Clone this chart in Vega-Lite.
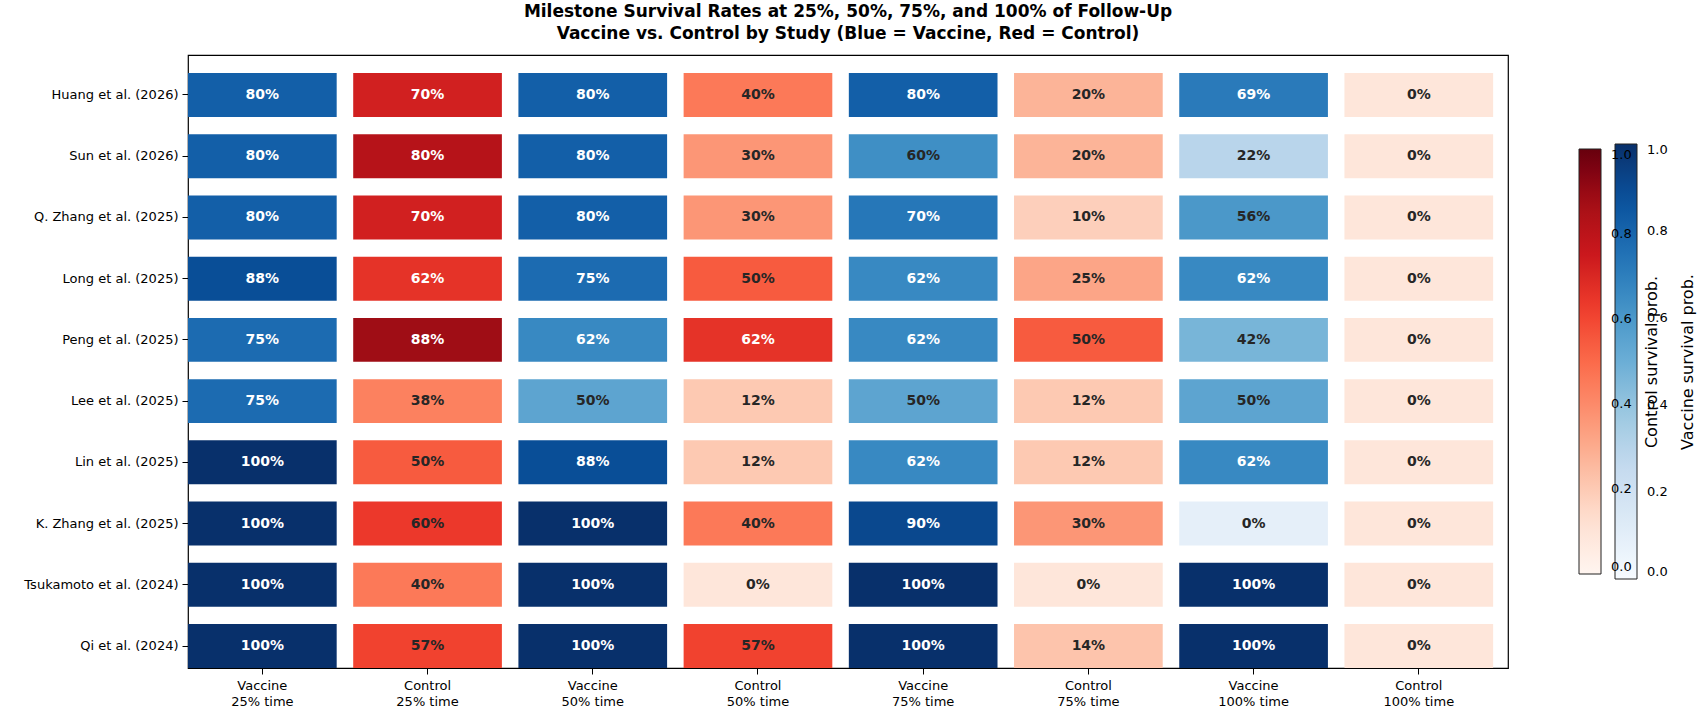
{
  "$schema": "https://vega.github.io/schema/vega-lite/v6.json",
  "width": 1320,
  "height": 613,
  "autosize": {"type": "none"},
  "padding": {"left": 188, "top": 55, "right": 193, "bottom": 43},
  "background": "white",
  "title": {
    "text": ["Milestone Survival Rates at 25%, 50%, 75%, and 100% of Follow-Up", "Vaccine vs. Control by Study (Blue = Vaccine, Red = Control)"],
    "font": "DejaVu Sans",
    "fontSize": 17,
    "fontWeight": "bold",
    "color": "black",
    "anchor": "middle",
    "frame": "group",
    "lineHeight": 22,
    "offset": 12
  },
  "config": {
    "font": "DejaVu Sans",
    "view": {"stroke": "black", "strokeWidth": 1.2},
    "axis": {
      "labelFont": "DejaVu Sans",
      "labelFontSize": 13,
      "labelColor": "black",
      "tickColor": "black",
      "tickSize": 6,
      "domain": false,
      "grid": false
    },
    "legend": {
      "padding": 0,
      "labelFont": "DejaVu Sans",
      "labelFontSize": 13,
      "labelColor": "black",
      "titleFont": "DejaVu Sans",
      "titleFontSize": 16,
      "titleFontWeight": "normal",
      "titleColor": "black",
      "gradientStrokeColor": "#222",
      "gradientStrokeWidth": 1
    }
  },
  "data": {
    "values": [
      {"study": "Huang et al. (2026)", "cond": "Vaccine", "col": "Vaccine|25% time", "v": 0.8, "label": "80%"},
      {"study": "Huang et al. (2026)", "cond": "Control", "col": "Control|25% time", "v": 0.7, "label": "70%"},
      {"study": "Huang et al. (2026)", "cond": "Vaccine", "col": "Vaccine|50% time", "v": 0.8, "label": "80%"},
      {"study": "Huang et al. (2026)", "cond": "Control", "col": "Control|50% time", "v": 0.4, "label": "40%"},
      {"study": "Huang et al. (2026)", "cond": "Vaccine", "col": "Vaccine|75% time", "v": 0.8, "label": "80%"},
      {"study": "Huang et al. (2026)", "cond": "Control", "col": "Control|75% time", "v": 0.2, "label": "20%"},
      {"study": "Huang et al. (2026)", "cond": "Vaccine", "col": "Vaccine|100% time", "v": 0.686, "label": "69%"},
      {"study": "Huang et al. (2026)", "cond": "Control", "col": "Control|100% time", "v": 0, "label": "0%"},

      {"study": "Sun et al. (2026)", "cond": "Vaccine", "col": "Vaccine|25% time", "v": 0.8, "label": "80%"},
      {"study": "Sun et al. (2026)", "cond": "Control", "col": "Control|25% time", "v": 0.8, "label": "80%"},
      {"study": "Sun et al. (2026)", "cond": "Vaccine", "col": "Vaccine|50% time", "v": 0.8, "label": "80%"},
      {"study": "Sun et al. (2026)", "cond": "Control", "col": "Control|50% time", "v": 0.3, "label": "30%"},
      {"study": "Sun et al. (2026)", "cond": "Vaccine", "col": "Vaccine|75% time", "v": 0.6, "label": "60%"},
      {"study": "Sun et al. (2026)", "cond": "Control", "col": "Control|75% time", "v": 0.2, "label": "20%"},
      {"study": "Sun et al. (2026)", "cond": "Vaccine", "col": "Vaccine|100% time", "v": 0.222, "label": "22%"},
      {"study": "Sun et al. (2026)", "cond": "Control", "col": "Control|100% time", "v": 0, "label": "0%"},

      {"study": "Q. Zhang et al. (2025)", "cond": "Vaccine", "col": "Vaccine|25% time", "v": 0.8, "label": "80%"},
      {"study": "Q. Zhang et al. (2025)", "cond": "Control", "col": "Control|25% time", "v": 0.7, "label": "70%"},
      {"study": "Q. Zhang et al. (2025)", "cond": "Vaccine", "col": "Vaccine|50% time", "v": 0.8, "label": "80%"},
      {"study": "Q. Zhang et al. (2025)", "cond": "Control", "col": "Control|50% time", "v": 0.3, "label": "30%"},
      {"study": "Q. Zhang et al. (2025)", "cond": "Vaccine", "col": "Vaccine|75% time", "v": 0.7, "label": "70%"},
      {"study": "Q. Zhang et al. (2025)", "cond": "Control", "col": "Control|75% time", "v": 0.1, "label": "10%"},
      {"study": "Q. Zhang et al. (2025)", "cond": "Vaccine", "col": "Vaccine|100% time", "v": 0.56, "label": "56%"},
      {"study": "Q. Zhang et al. (2025)", "cond": "Control", "col": "Control|100% time", "v": 0, "label": "0%"},

      {"study": "Long et al. (2025)", "cond": "Vaccine", "col": "Vaccine|25% time", "v": 0.875, "label": "88%"},
      {"study": "Long et al. (2025)", "cond": "Control", "col": "Control|25% time", "v": 0.625, "label": "62%"},
      {"study": "Long et al. (2025)", "cond": "Vaccine", "col": "Vaccine|50% time", "v": 0.75, "label": "75%"},
      {"study": "Long et al. (2025)", "cond": "Control", "col": "Control|50% time", "v": 0.5, "label": "50%"},
      {"study": "Long et al. (2025)", "cond": "Vaccine", "col": "Vaccine|75% time", "v": 0.625, "label": "62%"},
      {"study": "Long et al. (2025)", "cond": "Control", "col": "Control|75% time", "v": 0.25, "label": "25%"},
      {"study": "Long et al. (2025)", "cond": "Vaccine", "col": "Vaccine|100% time", "v": 0.625, "label": "62%"},
      {"study": "Long et al. (2025)", "cond": "Control", "col": "Control|100% time", "v": 0, "label": "0%"},

      {"study": "Peng et al. (2025)", "cond": "Vaccine", "col": "Vaccine|25% time", "v": 0.75, "label": "75%"},
      {"study": "Peng et al. (2025)", "cond": "Control", "col": "Control|25% time", "v": 0.875, "label": "88%"},
      {"study": "Peng et al. (2025)", "cond": "Vaccine", "col": "Vaccine|50% time", "v": 0.625, "label": "62%"},
      {"study": "Peng et al. (2025)", "cond": "Control", "col": "Control|50% time", "v": 0.625, "label": "62%"},
      {"study": "Peng et al. (2025)", "cond": "Vaccine", "col": "Vaccine|75% time", "v": 0.625, "label": "62%"},
      {"study": "Peng et al. (2025)", "cond": "Control", "col": "Control|75% time", "v": 0.5, "label": "50%"},
      {"study": "Peng et al. (2025)", "cond": "Vaccine", "col": "Vaccine|100% time", "v": 0.417, "label": "42%"},
      {"study": "Peng et al. (2025)", "cond": "Control", "col": "Control|100% time", "v": 0, "label": "0%"},

      {"study": "Lee et al. (2025)", "cond": "Vaccine", "col": "Vaccine|25% time", "v": 0.75, "label": "75%"},
      {"study": "Lee et al. (2025)", "cond": "Control", "col": "Control|25% time", "v": 0.375, "label": "38%"},
      {"study": "Lee et al. (2025)", "cond": "Vaccine", "col": "Vaccine|50% time", "v": 0.5, "label": "50%"},
      {"study": "Lee et al. (2025)", "cond": "Control", "col": "Control|50% time", "v": 0.125, "label": "12%"},
      {"study": "Lee et al. (2025)", "cond": "Vaccine", "col": "Vaccine|75% time", "v": 0.5, "label": "50%"},
      {"study": "Lee et al. (2025)", "cond": "Control", "col": "Control|75% time", "v": 0.125, "label": "12%"},
      {"study": "Lee et al. (2025)", "cond": "Vaccine", "col": "Vaccine|100% time", "v": 0.5, "label": "50%"},
      {"study": "Lee et al. (2025)", "cond": "Control", "col": "Control|100% time", "v": 0, "label": "0%"},

      {"study": "Lin et al. (2025)", "cond": "Vaccine", "col": "Vaccine|25% time", "v": 1.0, "label": "100%"},
      {"study": "Lin et al. (2025)", "cond": "Control", "col": "Control|25% time", "v": 0.5, "label": "50%"},
      {"study": "Lin et al. (2025)", "cond": "Vaccine", "col": "Vaccine|50% time", "v": 0.875, "label": "88%"},
      {"study": "Lin et al. (2025)", "cond": "Control", "col": "Control|50% time", "v": 0.125, "label": "12%"},
      {"study": "Lin et al. (2025)", "cond": "Vaccine", "col": "Vaccine|75% time", "v": 0.625, "label": "62%"},
      {"study": "Lin et al. (2025)", "cond": "Control", "col": "Control|75% time", "v": 0.125, "label": "12%"},
      {"study": "Lin et al. (2025)", "cond": "Vaccine", "col": "Vaccine|100% time", "v": 0.625, "label": "62%"},
      {"study": "Lin et al. (2025)", "cond": "Control", "col": "Control|100% time", "v": 0, "label": "0%"},

      {"study": "K. Zhang et al. (2025)", "cond": "Vaccine", "col": "Vaccine|25% time", "v": 1.0, "label": "100%"},
      {"study": "K. Zhang et al. (2025)", "cond": "Control", "col": "Control|25% time", "v": 0.6, "label": "60%"},
      {"study": "K. Zhang et al. (2025)", "cond": "Vaccine", "col": "Vaccine|50% time", "v": 1.0, "label": "100%"},
      {"study": "K. Zhang et al. (2025)", "cond": "Control", "col": "Control|50% time", "v": 0.4, "label": "40%"},
      {"study": "K. Zhang et al. (2025)", "cond": "Vaccine", "col": "Vaccine|75% time", "v": 0.9, "label": "90%"},
      {"study": "K. Zhang et al. (2025)", "cond": "Control", "col": "Control|75% time", "v": 0.3, "label": "30%"},
      {"study": "K. Zhang et al. (2025)", "cond": "Vaccine", "col": "Vaccine|100% time", "v": 0, "label": "0%"},
      {"study": "K. Zhang et al. (2025)", "cond": "Control", "col": "Control|100% time", "v": 0, "label": "0%"},

      {"study": "Tsukamoto et al. (2024)", "cond": "Vaccine", "col": "Vaccine|25% time", "v": 1.0, "label": "100%"},
      {"study": "Tsukamoto et al. (2024)", "cond": "Control", "col": "Control|25% time", "v": 0.4, "label": "40%"},
      {"study": "Tsukamoto et al. (2024)", "cond": "Vaccine", "col": "Vaccine|50% time", "v": 1.0, "label": "100%"},
      {"study": "Tsukamoto et al. (2024)", "cond": "Control", "col": "Control|50% time", "v": 0, "label": "0%"},
      {"study": "Tsukamoto et al. (2024)", "cond": "Vaccine", "col": "Vaccine|75% time", "v": 1.0, "label": "100%"},
      {"study": "Tsukamoto et al. (2024)", "cond": "Control", "col": "Control|75% time", "v": 0, "label": "0%"},
      {"study": "Tsukamoto et al. (2024)", "cond": "Vaccine", "col": "Vaccine|100% time", "v": 1.0, "label": "100%"},
      {"study": "Tsukamoto et al. (2024)", "cond": "Control", "col": "Control|100% time", "v": 0, "label": "0%"},

      {"study": "Qi et al. (2024)", "cond": "Vaccine", "col": "Vaccine|25% time", "v": 1.0, "label": "100%"},
      {"study": "Qi et al. (2024)", "cond": "Control", "col": "Control|25% time", "v": 0.571, "label": "57%"},
      {"study": "Qi et al. (2024)", "cond": "Vaccine", "col": "Vaccine|50% time", "v": 1.0, "label": "100%"},
      {"study": "Qi et al. (2024)", "cond": "Control", "col": "Control|50% time", "v": 0.571, "label": "57%"},
      {"study": "Qi et al. (2024)", "cond": "Vaccine", "col": "Vaccine|75% time", "v": 1.0, "label": "100%"},
      {"study": "Qi et al. (2024)", "cond": "Control", "col": "Control|75% time", "v": 0.143, "label": "14%"},
      {"study": "Qi et al. (2024)", "cond": "Vaccine", "col": "Vaccine|100% time", "v": 1.0, "label": "100%"},
      {"study": "Qi et al. (2024)", "cond": "Control", "col": "Control|100% time", "v": 0, "label": "0%"}
    ]
  },
  "encoding": {
    "x": {
      "field": "col",
      "type": "nominal",
      "scale": {
        "domain": ["Vaccine|25% time", "Control|25% time", "Vaccine|50% time", "Control|50% time", "Vaccine|75% time", "Control|75% time", "Vaccine|100% time", "Control|100% time"],
        "paddingInner": 0.1,
        "paddingOuter": 0.045,
        "align": 0
      },
      "axis": {"title": null, "labelAngle": 0, "labelExpr": "split(datum.label, '|')", "labelLineHeight": 16, "labelPadding": 5}
    },
    "y": {
      "field": "study",
      "type": "nominal",
      "scale": {
        "domain": ["Huang et al. (2026)", "Sun et al. (2026)", "Q. Zhang et al. (2025)", "Long et al. (2025)", "Peng et al. (2025)", "Lee et al. (2025)", "Lin et al. (2025)", "K. Zhang et al. (2025)", "Tsukamoto et al. (2024)", "Qi et al. (2024)"],
        "paddingInner": 0.282,
        "paddingOuter": 0.147,
        "align": 1
      },
      "axis": {"title": null, "labelPadding": 4}
    }
  },
  "layer": [
    {
      "transform": [{"filter": "datum.cond === 'Vaccine'"}],
      "mark": {"type": "text", "text": ""},
      "encoding": {
        "color": {
          "field": "v",
          "type": "quantitative",
          "scale": {
            "type": "linear",
            "domain": [0, 0.125, 0.25, 0.375, 0.5, 0.625, 0.75, 0.875, 1],
            "range": ["#f7fbff", "#deebf7", "#c6dbef", "#9ecae1", "#6baed6", "#4292c6", "#2171b5", "#08519c", "#08306b"]
          },
          "legend": {
            "title": "Vaccine survival prob.",
            "orient": "none",
            "legendX": 1427,
            "legendY": 89,
            "direction": "vertical",
            "gradientLength": 435,
            "gradientThickness": 22,
            "values": [0, 0.2, 0.4, 0.6, 0.8, 1],
            "format": ".1f",
            "labelOffset": 10,
            "titleOrient": "right",
            "titleAnchor": "middle",
            "titlePadding": 28,
            "encode": {"title": {"update": {"angle": {"value": -90}}}}
          }
        }
      }
    },
    {
      "transform": [{"filter": "datum.cond === 'Control'"}],
      "mark": {"type": "text", "text": ""},
      "encoding": {
        "color": {
          "field": "v",
          "type": "quantitative",
          "scale": {
            "type": "linear",
            "domain": [0, 0.125, 0.25, 0.375, 0.5, 0.625, 0.75, 0.875, 1],
            "range": ["#fff5f0", "#fee0d2", "#fcbba1", "#fc9272", "#fb6a4a", "#ef3b2c", "#cb181d", "#a50f15", "#67000d"]
          },
          "legend": {
            "title": "Control survival prob.",
            "orient": "none",
            "legendX": 1391,
            "legendY": 94,
            "direction": "vertical",
            "gradientLength": 425,
            "gradientThickness": 22,
            "values": [0, 0.2, 0.4, 0.6, 0.8, 1],
            "format": ".1f",
            "labelOffset": 10,
            "titleOrient": "right",
            "titleAnchor": "middle",
            "titlePadding": 28,
            "encode": {"title": {"update": {"angle": {"value": -90}}}}
          }
        }
      }
    },
    {
      "transform": [{"filter": "datum.cond === 'Vaccine'"}],
      "mark": {"type": "rect"},
      "encoding": {
        "color": {
          "field": "v",
          "type": "quantitative",
          "scale": {
            "type": "linear",
            "domain": [-0.1, 0.0375, 0.175, 0.3125, 0.45, 0.5875, 0.725, 0.8625, 1],
            "range": ["#f7fbff", "#deebf7", "#c6dbef", "#9ecae1", "#6baed6", "#4292c6", "#2171b5", "#08519c", "#08306b"]
          },
          "legend": null
        }
      }
    },
    {
      "transform": [{"filter": "datum.cond === 'Control'"}],
      "mark": {"type": "rect"},
      "encoding": {
        "color": {
          "field": "v",
          "type": "quantitative",
          "scale": {
            "type": "linear",
            "domain": [-0.1, 0.0375, 0.175, 0.3125, 0.45, 0.5875, 0.725, 0.8625, 1],
            "range": ["#fff5f0", "#fee0d2", "#fcbba1", "#fc9272", "#fb6a4a", "#ef3b2c", "#cb181d", "#a50f15", "#67000d"]
          },
          "legend": null
        }
      }
    },
    {
      "mark": {"type": "text", "font": "DejaVu Sans", "fontSize": 14, "fontWeight": "bold"},
      "encoding": {
        "text": {"field": "label", "type": "nominal"},
        "color": {"condition": {"test": "datum.v > 0.6", "value": "white"}, "value": "#262626"}
      }
    }
  ],
  "resolve": {"scale": {"color": "independent"}, "legend": {"color": "independent"}}
}
